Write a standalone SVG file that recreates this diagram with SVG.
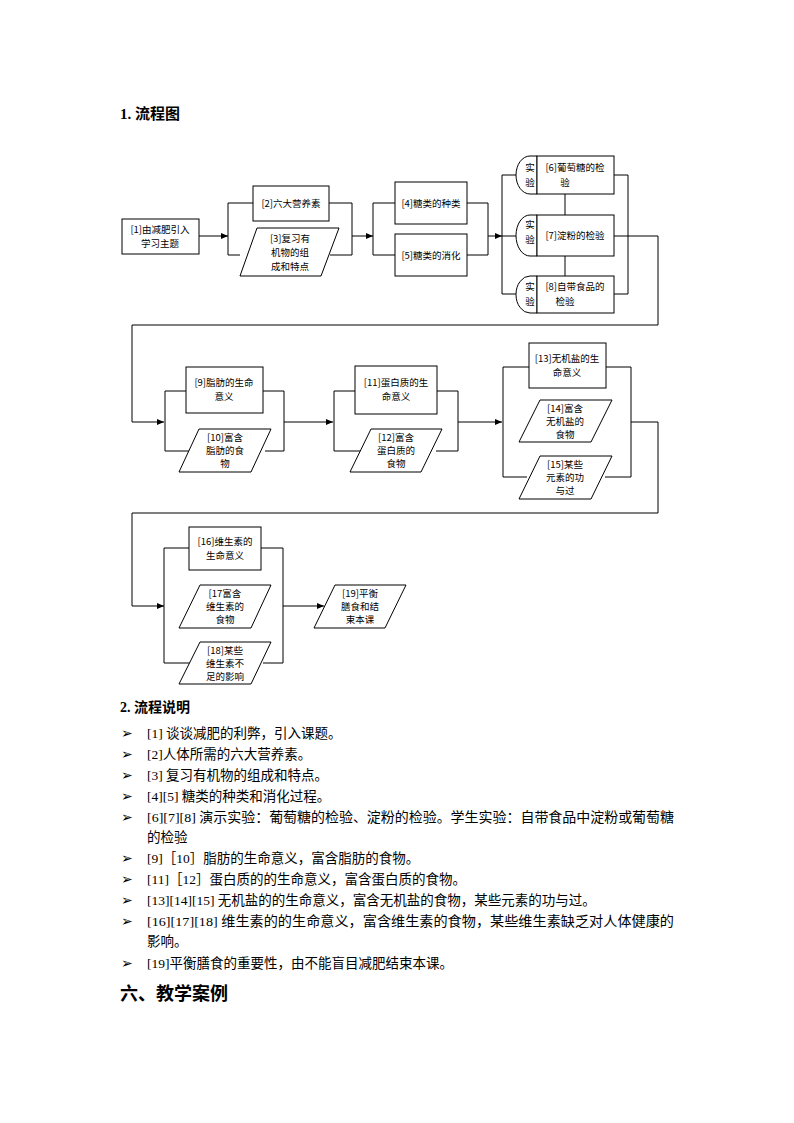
<svg xmlns="http://www.w3.org/2000/svg" width="794" height="1123" viewBox="0 0 794 1123">
<style>
.b{fill:#fff;stroke:#000;stroke-width:1}
.l{fill:none;stroke:#000;stroke-width:1}
.t{font-family:"Noto Sans CJK SC","Liberation Serif",sans-serif;font-size:9.5px;fill:#000;text-anchor:middle}
.p{font-family:"Liberation Serif","Noto Sans CJK SC",serif;font-size:13.5px;fill:#000}
.h{font-family:"Liberation Serif","Noto Sans CJK SC",serif;font-weight:bold;fill:#000}
</style>
<defs><marker id="a" markerWidth="7" markerHeight="6" refX="7" refY="3" orient="auto" markerUnits="userSpaceOnUse"><path d="M0,0L7,3L0,6z"/></marker></defs>
<rect width="794" height="1123" fill="#fff"/>
<text class="h" x="120" y="119" font-size="15">1.   流程图</text>
<g id="connectors" class="l">
<path d="M199,236H228" marker-end="url(#a)"/>
<path d="M253,203H228V255H240M329,203H352V255H330M352,236H373" marker-end="url(#a)"/>
<path d="M395,203H373V255H395M467,203H488V255H467M488,236H502" marker-end="url(#a)"/>
<path d="M516,175H502V294H516M516,236H502M565,194V215M565,256V276M614,175H628V294H614M614,236H658V325H132V422H164" marker-end="url(#a)"/>
<path d="M186,391H165V451H192M263,391H284V451H265M284,422H333" marker-end="url(#a)"/>
<path d="M355,391H334V451H362M437,391H458V451H436M458,422H502" marker-end="url(#a)"/>
<path d="M529,367H503V477H527M606,367H631V477H605M631,422H658V513H132V606H164" marker-end="url(#a)"/>
<path d="M189,548H164V663H190M261,548H283V663H263M283,606H324" marker-end="url(#a)"/>
</g>
<g id="n1"><rect class="b" x="122" y="219" width="77" height="35"/><text class="t" x="160" y="233">[1]由减肥引入</text><text class="t" x="160" y="247">学习主题</text></g>
<g id="n2"><rect class="b" x="253" y="186" width="76" height="35"/><text class="t" x="291" y="207">[2]六大营养素</text></g>
<g id="n3"><polygon class="b" points="257,228 339,228 321,276 240,276"/><text class="t" x="290" y="242">[3]复习有</text><text class="t" x="290" y="256">机物的组</text><text class="t" x="290" y="270">成和特点</text></g>
<g id="n4"><rect class="b" x="395" y="182" width="72" height="42"/><text class="t" x="431" y="207">[4]糖类的种类</text></g>
<g id="n5"><rect class="b" x="395" y="234" width="72" height="42"/><text class="t" x="431" y="259">[5]糖类的消化</text></g>
<g id="n6"><path class="b" d="M537,156V194H530A14,19 0 0 1 516,175A14,19 0 0 1 530,156Z"/><rect class="b" x="537" y="156" width="77" height="38"/><text class="t" x="530" y="171">实</text><text class="t" x="530" y="186">验</text><text class="t" x="575" y="171">[6]葡萄糖的检</text><text class="t" x="565" y="186">验</text></g>
<g id="n7"><path class="b" d="M537,215V256H530A14,20.5 0 0 1 516,235.5A14,20.5 0 0 1 530,215Z"/><rect class="b" x="537" y="215" width="77" height="41"/><text class="t" x="530" y="228">实</text><text class="t" x="530" y="243">验</text><text class="t" x="575" y="239">[7]淀粉的检验</text></g>
<g id="n8"><path class="b" d="M537,276V313H530A14,18.5 0 0 1 516,294.5A14,18.5 0 0 1 530,276Z"/><rect class="b" x="537" y="276" width="77" height="37"/><text class="t" x="530" y="290">实</text><text class="t" x="530" y="305">验</text><text class="t" x="575" y="290">[8]自带食品的</text><text class="t" x="565" y="305">检验</text></g>
<g id="n9"><rect class="b" x="186" y="367" width="77" height="46"/><text class="t" x="224" y="386">[9]脂肪的生命</text><text class="t" x="224" y="400">意义</text></g>
<g id="n10"><polygon class="b" points="199,429 271,429 251,472 179,472"/><text class="t" x="225" y="441">[10]富含</text><text class="t" x="225" y="454">脂肪的食</text><text class="t" x="225" y="467">物</text></g>
<g id="n11"><rect class="b" x="355" y="366" width="82" height="48"/><text class="t" x="396" y="386">[11]蛋白质的生</text><text class="t" x="396" y="400">命意义</text></g>
<g id="n12"><polygon class="b" points="371,429 442,429 421,472 350,472"/><text class="t" x="396" y="441">[12]富含</text><text class="t" x="396" y="454">蛋白质的</text><text class="t" x="396" y="467">食物</text></g>
<g id="n13"><rect class="b" x="529" y="343" width="77" height="45"/><text class="t" x="567" y="362">[13]无机盐的生</text><text class="t" x="567" y="376">命意义</text></g>
<g id="n14"><polygon class="b" points="540,400 612,400 591,442 519,442"/><text class="t" x="565" y="412">[14]富含</text><text class="t" x="565" y="425">无机盐的</text><text class="t" x="565" y="438">食物</text></g>
<g id="n15"><polygon class="b" points="540,456 612,456 591,499 519,499"/><text class="t" x="565" y="468">[15]某些</text><text class="t" x="565" y="481">元素的功</text><text class="t" x="565" y="494">与过</text></g>
<g id="n16"><rect class="b" x="189" y="527" width="72" height="43"/><text class="t" x="225" y="545">[16]维生素的</text><text class="t" x="225" y="559">生命意义</text></g>
<g id="n17"><polygon class="b" points="200,585 271,585 251,628 179,628"/><text class="t" x="225" y="597">[17富含</text><text class="t" x="225" y="610">维生素的</text><text class="t" x="225" y="623">食物</text></g>
<g id="n18"><polygon class="b" points="200,642 271,642 251,684 179,684"/><text class="t" x="225" y="654">[18]某些</text><text class="t" x="225" y="667">维生素不</text><text class="t" x="225" y="680">足的影响</text></g>
<g id="n19"><polygon class="b" points="335,585 406,585 385,628 314,628"/><text class="t" x="360" y="597">[19]平衡</text><text class="t" x="360" y="610">膳食和结</text><text class="t" x="360" y="623">束本课</text></g>
<text class="h" x="120" y="712" font-size="14">2. 流程说明</text>
<g class="p">
<text x="121" y="738">➢</text><text x="147" y="738">[1]  谈谈减肥的利弊，引入课题。</text>
<text x="121" y="759">➢</text><text x="147" y="759">[2]人体所需的六大营养素。</text>
<text x="121" y="780">➢</text><text x="147" y="780">[3]  复习有机物的组成和特点。</text>
<text x="121" y="801">➢</text><text x="147" y="801">[4][5]  糖类的种类和消化过程。</text>
<text x="121" y="822">➢</text><text x="147" y="822" textLength="527" lengthAdjust="spacingAndGlyphs">[6][7][8] 演示实验：葡萄糖的检验、淀粉的检验。学生实验：自带食品中淀粉或葡萄糖</text>
<text x="147" y="842">的检验</text>
<text x="121" y="863">➢</text><text x="147" y="863">[9]［10］脂肪的生命意义，富含脂肪的食物。</text>
<text x="121" y="884">➢</text><text x="147" y="884">[11]［12］蛋白质的的生命意义，富含蛋白质的食物。</text>
<text x="121" y="905">➢</text><text x="147" y="905">[13][14][15] 无机盐的的生命意义，富含无机盐的食物，某些元素的功与过。</text>
<text x="121" y="926">➢</text><text x="147" y="926" textLength="527" lengthAdjust="spacingAndGlyphs">[16][17][18] 维生素的的生命意义，富含维生素的食物，某些维生素缺乏对人体健康的</text>
<text x="147" y="946">影响。</text>
<text x="121" y="968">➢</text><text x="147" y="968">[19]平衡膳食的重要性，由不能盲目减肥结束本课。</text>
</g>
<text class="h" x="120" y="1000" font-size="18">六、教学案例</text>
</svg>
